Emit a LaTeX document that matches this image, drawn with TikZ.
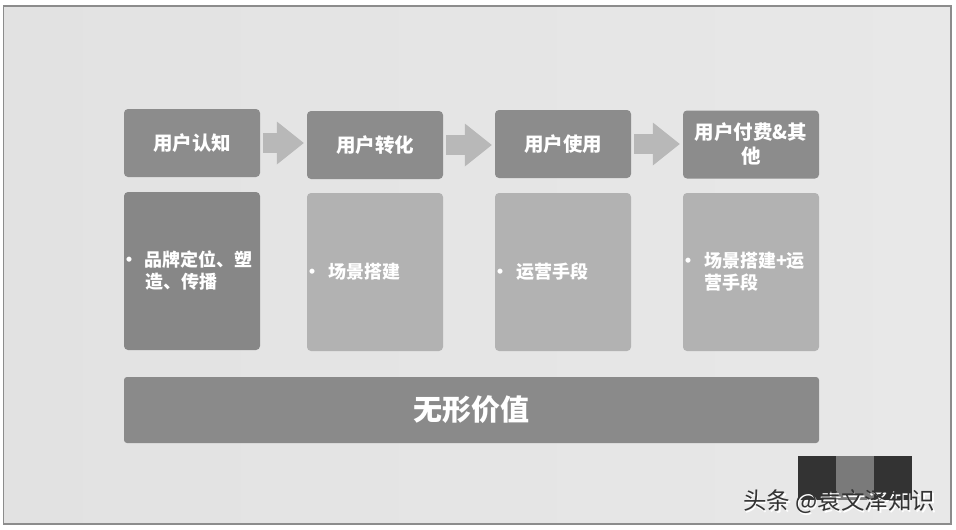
\documentclass[tikz,border=0pt]{standalone}
\usepackage{fontspec}
\setmainfont{Noto Sans CJK SC}
\usetikzlibrary{arrows.meta}
\definecolor{bgleft}{HTML}{E2E2E2}
\definecolor{bgmid}{HTML}{EEEEEE}
\definecolor{bgright}{HTML}{E8E8E8}
\definecolor{framegray}{HTML}{8C8C8C}
\definecolor{headgray}{HTML}{8C8C8C}
\definecolor{darkbody}{HTML}{878787}
\definecolor{lightbody}{HTML}{B2B2B2}
\definecolor{arrowgray}{HTML}{B8B8B8}
\definecolor{bargray}{HTML}{8A8A8A}
\definecolor{markdark}{HTML}{333333}
\definecolor{markmid}{HTML}{7A7A7A}
\newcommand{\dotmark}{\makebox[17pt][l]{\kern-7.5pt·}}

\begin{document}
\begin{tikzpicture}[x=1pt,y=-1pt,
    head/.style={fill=headgray,rounded corners=4pt,minimum width=136pt,minimum height=68pt,
      inner sep=0pt,align=center,text=white,font=\bfseries\fontsize{19.5}{24}\selectfont},
    body/.style={fill=lightbody,rounded corners=4pt,minimum width=136pt,minimum height=158pt,
      inner xsep=4pt,inner ysep=0pt,text width=128pt,align=left,text=white,
      font=\bfseries\fontsize{18}{22}\selectfont},
    flow/.style={draw=arrowgray,line width=20pt,shorten <=3pt,shorten >=3pt,
      -{Triangle[length=27pt,width=43pt,line width=0pt]}},
    bar/.style={fill=bargray,rounded corners=3pt,minimum width=695pt,minimum height=66pt,
      inner sep=0pt,text=white,font=\bfseries\fontsize{29}{34}\selectfont},
    wmark/.style={inner sep=0pt,text=markdark,font=\fontsize{23.5}{26}\selectfont}]
    \useasboundingbox (0,0) rectangle (956,530);
    \fill[white] (0,0) rectangle (956,530);
    \shade[left color=bgleft,middle color=bgmid,right color=bgright] (3.5,6) rectangle (951,524);
    \draw[draw=framegray,line width=1.2pt] (3.5,6) rectangle (951,524);
    \node[head] (h1) at (192,143) {用户认知};
    \node[head] (h2) at (375,145) {用户转化};
    \node[head] (h3) at (563,144) {用户使用};
    \node[head] (h4) at (751,144.5) {用户付费\&其\\他};
    \draw[flow] (h1.east) -- (h1.east -| h2.west);
    \draw[flow] (h2.east) -- (h2.east -| h3.west);
    \draw[flow] (h3.east) -- (h3.east -| h4.west);
    \node[body,fill=darkbody] (b1) at (192,271) {\dotmark 品牌定位、塑\\\hspace*{17pt}造、传播};
    \node[body] (b2) at (375,272) {\dotmark 场景搭建};
    \node[body] (b3) at (563,272) {\dotmark 运营手段};
    \node[body] (b4) at (751,272) {\dotmark 场景搭建+运\\\hspace*{17pt}营手段};
    \node[bar] (value) at (471.5,410) {无形价值};
    \fill[markdark] (798,456) rectangle (836,500);
    \fill[markmid] (836,456) rectangle (874,500);
    \fill[markdark] (874,456) rectangle (912,500);
    \node[wmark,text=white] (markshade) at (840.5,503.5) {头条 @袁文泽知识};
    \node[wmark] (mark) at (839,502) {头条 @袁文泽知识};
\end{tikzpicture}
\end{document}
